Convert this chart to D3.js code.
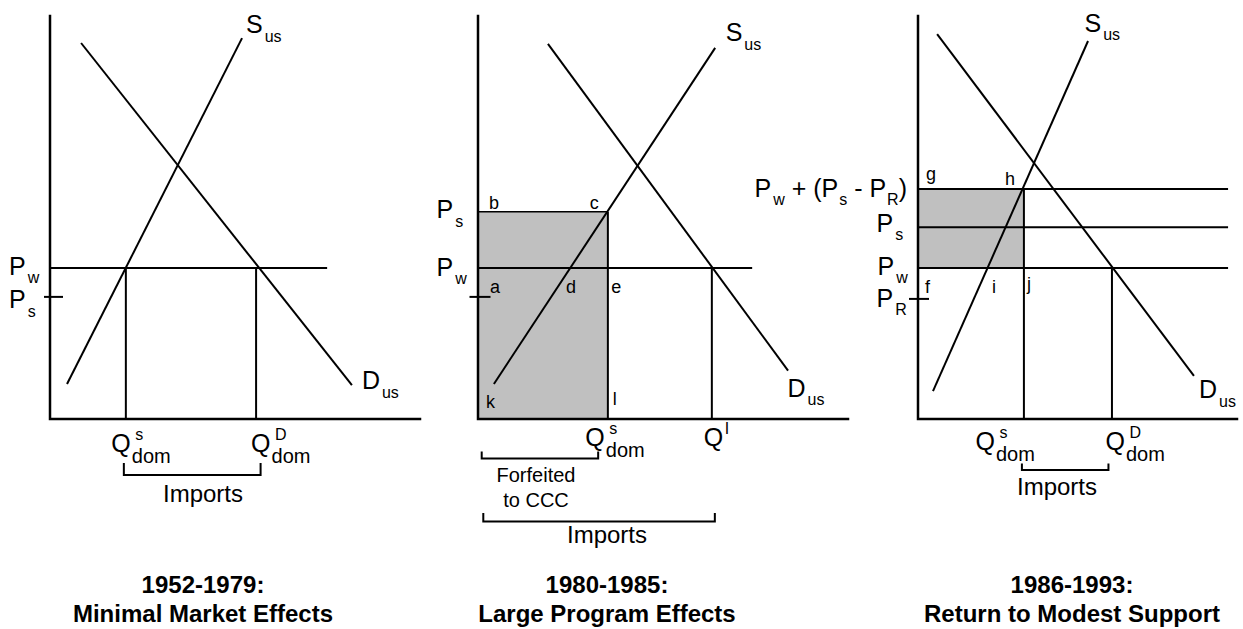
<!DOCTYPE html>
<html><head><meta charset="utf-8">
<script src="https://cdn.jsdelivr.net/npm/d3@7"></script>
<style>
body{margin:0;background:#fff;}
svg text{font-family:"Liberation Sans",Arial,Helvetica,sans-serif;fill:#000;}
</style></head>
<body><svg id="c" width="1243" height="629"></svg>
<script>
// ---------- DATA (price / quantity units, 0-100 on each panel) ----------
const p1Supply = [[4.6, 8.7], [51.9, 94.5]];
const p1Demand = [[8.4, 93.3], [81.6, 8.4]];
const p1Prices = {Pw: 37.5, Ps: 30.3};
const p1Quantities = {Qs: 20.5, Qd: 55.7};

const p2Supply = [[4.3, 8.7], [64.1, 92.1]];
const p2Demand = [[18.9, 93.1], [83.8, 12.0]];
const p2Prices = {Ps: 51.4, Pw: 37.5, PL: 30.3};
const p2Quantities = {Qs: 35.1, QI: 63.2};

const p3Supply = [[4.7, 6.9], [53.3, 93.8]];
const p3Demand = [[6.0, 95.5], [86.5, 10.7]];
const p3Prices = {Ptop: 57.1, Ps: 47.6, Pw: 37.5, PR: 29.8};
const p3Quantities = {Qs: 33.2, Qd: 60.8};

const titleLines = [
  ["1952-1979:", "Minimal Market Effects"],
  ["1980-1985:", "Large Program Effects"],
  ["1986-1993:", "Return to Modest Support"]
];
const bracketLabels = ["Imports", "Forfeited", "to CCC"];

// ---------- LAYOUT ----------
const svg = d3.select("#c");
const yTop = 16, yBot = 419;
const y = d3.scaleLinear().domain([0, 100]).range([yBot, yTop]);
const x1 = d3.scaleLinear().domain([0, 100]).range([50, 420]);
const x2 = d3.scaleLinear().domain([0, 100]).range([478, 848]);
const x3 = d3.scaleLinear().domain([0, 100]).range([918, 1237]);

const MAIN = 25, SUB = 16;

function path(g, d, w) {
  return g.append("path").attr("d", d).attr("fill", "none").attr("stroke", "#000")
    .attr("stroke-width", w || 2);
}
function seg(g, pts, xs, w) {
  const line = d3.line().x(p => xs(p[0])).y(p => y(p[1]));
  return path(g, line(pts), w || 2);
}
function hline(g, yy, xa, xb, w) { path(g, `M${xa},${yy}H${xb}`, w || 2); }
function vline(g, xx, ya, yb, w) { path(g, `M${xx},${ya}V${yb}`, w || 2); }
function axes(g, xs) {
  path(g, `M${xs.range()[0]},${yTop}V${yBot}H${xs.range()[1]}`, 2.5)
    .attr("stroke-linecap", "square");
}
function subLabel(g, x, by, main, sub, anchor) {
  const t = g.append("text").attr("x", x).attr("y", by).attr("font-size", MAIN)
    .attr("text-anchor", anchor || "start");
  t.append("tspan").text(main);
  t.append("tspan").attr("dx", 2).attr("dy", 8.5).attr("font-size", SUB).text(sub);
  return t;
}
function qLabel(g, x, by, sup, sub, supDx) {
  g.append("text").attr("x", x).attr("y", by).attr("font-size", MAIN).text("Q");
  g.append("text").attr("x", x + (supDx || 24)).attr("y", by - 12).attr("font-size", SUB).text(sup);
  if (sub) g.append("text").attr("x", x + 20.5).attr("y", by + 11).attr("font-size", 20).text(sub);
}
function letter(g, x, by, s) {
  g.append("text").attr("x", x).attr("y", by).attr("font-size", 18).text(s);
}
function bracket(g, xa, xb, yy, h) {
  path(g, `M${xa},${yy - h}V${yy}H${xb}V${yy - h}`, 2);
}
function text(g, x, by, s, size, weight) {
  g.append("text").attr("x", x).attr("y", by).attr("font-size", size)
    .attr("font-weight", weight || "normal").attr("text-anchor", "middle").text(s);
}

// ---------- PANEL 1 ----------
{
  const g = svg.append("g"), xs = x1;
  hline(g, y(p1Prices.Pw), xs(0), xs(74.9));
  hline(g, y(p1Prices.Ps), xs(0) - 6, xs(0) + 13);
  vline(g, xs(p1Quantities.Qs), y(p1Prices.Pw), yBot);
  vline(g, xs(p1Quantities.Qd), y(p1Prices.Pw), yBot);
  seg(g, p1Supply, xs);
  seg(g, p1Demand, xs);
  axes(g, xs);
  subLabel(g, xs(0) - 41, y(p1Prices.Pw) + 7, "P", "w");
  subLabel(g, xs(0) - 41, y(p1Prices.Ps) + 11.5, "P", "s");
  const sTop = p1Supply[1], dEnd = p1Demand[1];
  subLabel(g, xs(sTop[0]) + 4, y(sTop[1]) - 5, "S", "us");
  subLabel(g, xs(dEnd[0]) + 10, y(dEnd[1]) + 4, "D", "us");
  qLabel(g, xs(p1Quantities.Qs) - 14.5, 452, "s", "dom");
  qLabel(g, xs(p1Quantities.Qd) - 5, 452, "D", "dom");
  bracket(g, xs(p1Quantities.Qs) - 2, xs(p1Quantities.Qd) + 4.5, 475, 12);
  text(g, 203, 502, bracketLabels[0], 24);
}

// ---------- PANEL 2 ----------
{
  const g = svg.append("g"), xs = x2;
  g.append("rect").attr("x", xs(0)).attr("y", y(p2Prices.Ps))
    .attr("width", xs(p2Quantities.Qs) - xs(0)).attr("height", yBot - y(p2Prices.Ps))
    .attr("fill", "#c0c0c0");
  hline(g, y(p2Prices.Ps), xs(0), xs(p2Quantities.Qs), 1.5);
  hline(g, y(p2Prices.Pw), xs(0), xs(74.1));
  hline(g, y(p2Prices.PL), xs(0) - 8.5, xs(0) + 12.5);
  vline(g, xs(p2Quantities.Qs), y(p2Prices.Ps), yBot);
  vline(g, xs(p2Quantities.QI), y(p2Prices.Pw), yBot);
  seg(g, p2Supply, xs);
  seg(g, p2Demand, xs);
  axes(g, xs);
  subLabel(g, xs(0) - 41.5, y(p2Prices.Ps) + 6.5, "P", "s");
  subLabel(g, xs(0) - 41.5, y(p2Prices.Pw) + 8, "P", "w");
  letter(g, xs(0) + 11, y(p2Prices.Ps) - 2.5, "b");
  letter(g, xs(p2Quantities.Qs) - 18, y(p2Prices.Ps) - 3, "c");
  letter(g, xs(0) + 12, y(p2Prices.Pw) + 25, "a");
  letter(g, xs(0) + 88, y(p2Prices.Pw) + 25, "d");
  letter(g, xs(p2Quantities.Qs) + 3.5, y(p2Prices.Pw) + 25, "e");
  letter(g, xs(0) + 8, 408, "k");
  letter(g, xs(p2Quantities.Qs) + 5, 405, "l");
  const sTop = p2Supply[1], dEnd = p2Demand[1];
  subLabel(g, xs(sTop[0]) + 10.5, y(sTop[1]) - 6.5, "S", "us");
  subLabel(g, xs(dEnd[0]) - 0.5, y(dEnd[1]) + 26, "D", "us");
  qLabel(g, xs(p2Quantities.Qs) - 22.5, 446, "s", "dom");
  qLabel(g, xs(p2Quantities.QI) - 8, 446, "I", null, 21);
  bracket(g, xs(0) + 3.7, xs(p2Quantities.Qs) - 9.7, 458.5, 7);
  text(g, 536, 481.5, bracketLabels[1], 20);
  text(g, 536, 506.5, bracketLabels[2], 20);
  bracket(g, xs(0) + 5.3, xs(p2Quantities.QI) + 3, 521.5, 8.5);
  text(g, 607, 543, bracketLabels[0], 24);
}

// ---------- PANEL 3 ----------
{
  const g = svg.append("g"), xs = x3;
  g.append("rect").attr("x", xs(0)).attr("y", y(p3Prices.Ptop))
    .attr("width", xs(p3Quantities.Qs) - xs(0)).attr("height", y(p3Prices.Pw) - y(p3Prices.Ptop))
    .attr("fill", "#c0c0c0");
  hline(g, y(p3Prices.Ptop), xs(0), xs(97.2));
  hline(g, y(p3Prices.Ps), xs(0), xs(97.2));
  hline(g, y(p3Prices.Pw), xs(0), xs(97.2));
  hline(g, y(p3Prices.PR), xs(0) - 9, xs(0) + 11);
  vline(g, xs(p3Quantities.Qs), y(p3Prices.Ptop), yBot);
  vline(g, xs(p3Quantities.Qd), y(p3Prices.Pw), yBot);
  seg(g, p3Supply, xs);
  seg(g, p3Demand, xs);
  axes(g, xs);
  // P_w + (P_s - P_R)
  const t = g.append("text").attr("x", xs(0) - 11).attr("y", y(p3Prices.Ptop) + 8)
    .attr("font-size", MAIN).attr("text-anchor", "end");
  t.append("tspan").text("P");
  t.append("tspan").attr("dx", 2).attr("dy", 8.5).attr("font-size", SUB).text("w");
  t.append("tspan").attr("dy", -8.5).text("\u00a0+ (P");
  t.append("tspan").attr("dx", 1).attr("dy", 8.5).attr("font-size", SUB).text("s");
  t.append("tspan").attr("dy", -8.5).text(" - P");
  t.append("tspan").attr("dx", 1).attr("dy", 8.5).attr("font-size", SUB).text("R");
  t.append("tspan").attr("dy", -8.5).text(")");
  subLabel(g, xs(0) - 41.5, y(p3Prices.Ps) + 4.7, "P", "s");
  subLabel(g, xs(0) - 40.5, y(p3Prices.Pw) + 7, "P", "w");
  subLabel(g, xs(0) - 41.5, y(p3Prices.PR) + 7.7, "P", "R");
  letter(g, xs(0) + 8, y(p3Prices.Ptop) - 9, "g");
  letter(g, xs(p3Quantities.Qs) - 19, y(p3Prices.Ptop) - 4, "h");
  letter(g, xs(0) + 7, y(p3Prices.Pw) + 25, "f");
  letter(g, xs(0) + 74, y(p3Prices.Pw) + 25, "i");
  letter(g, xs(p3Quantities.Qs) + 3, y(p3Prices.Pw) + 22, "j");
  const sTop = p3Supply[1], dEnd = p3Demand[1];
  subLabel(g, xs(sTop[0]) - 3.5, y(sTop[1]) - 9, "S", "us");
  subLabel(g, xs(dEnd[0]) + 5, y(dEnd[1]) + 22.5, "D", "us");
  qLabel(g, xs(p3Quantities.Qs) - 48.5, 450, "s", "dom");
  qLabel(g, xs(p3Quantities.Qd) - 6.5, 450, "D", "dom");
  bracket(g, xs(p3Quantities.Qs) - 2, xs(p3Quantities.Qd) - 3.5, 470, 6.5);
  text(g, 1057, 495, bracketLabels[0], 24);
}

// ---------- TITLES ----------
const titleX = [203, 607, 1072];
titleLines.forEach((lines, i) => {
  text(svg, titleX[i], 593, lines[0], 24, "bold");
  text(svg, titleX[i], 621.5, lines[1], 24, "bold");
});
</script></body></html>
